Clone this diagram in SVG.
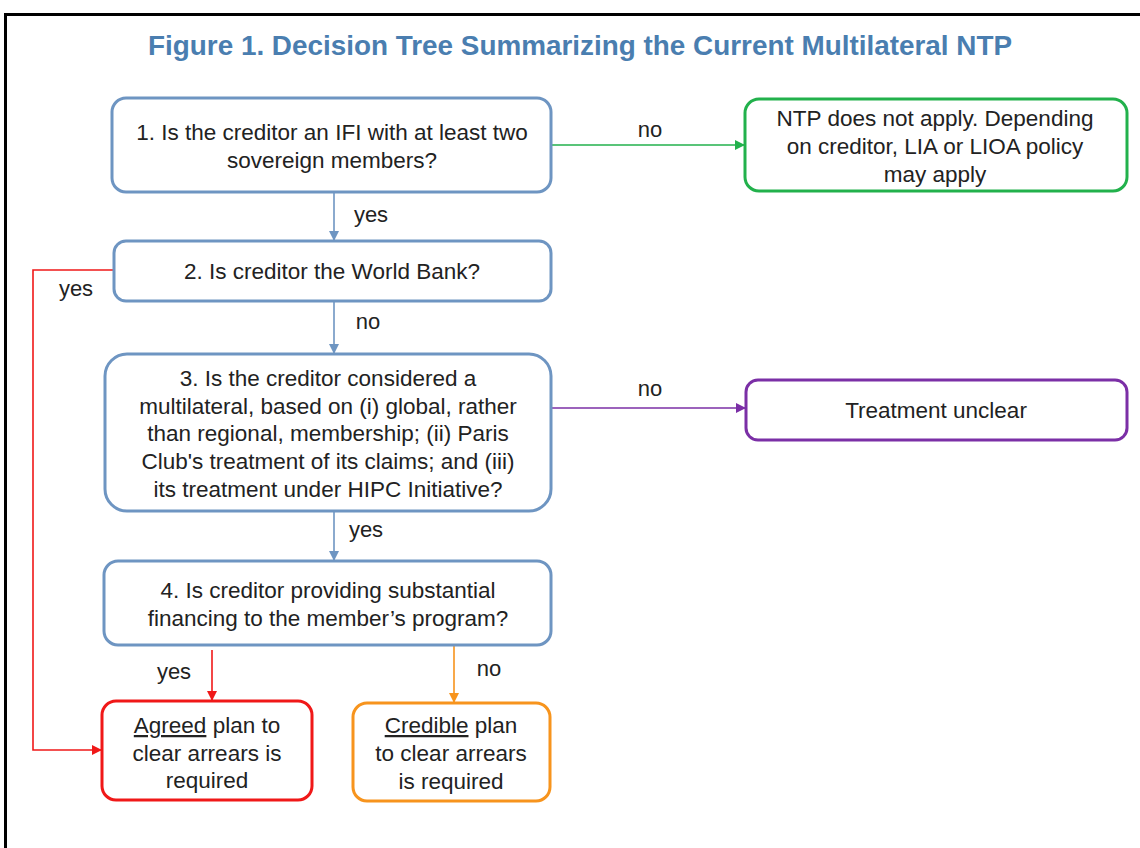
<svg xmlns="http://www.w3.org/2000/svg" width="1140" height="848" viewBox="0 0 1140 848">
<defs>
<style>
.t{font-family:"Liberation Sans",Arial,sans-serif;font-size:22.5px;fill:#222;text-anchor:middle}
.lb{font-family:"Liberation Sans",Arial,sans-serif;font-size:22px;fill:#222;text-anchor:middle}
.bx{fill:#fff;stroke-width:3}
.q{stroke:#6E95C2}
.c{fill:none;stroke-width:1.6}
</style>
<marker id="aB" markerWidth="10" markerHeight="10" refX="9" refY="5" orient="auto" markerUnits="userSpaceOnUse"><path d="M0,0 L10,5 L0,10 z" fill="#6E95C2"/></marker>
<marker id="aG" markerWidth="10" markerHeight="10" refX="9" refY="5" orient="auto" markerUnits="userSpaceOnUse"><path d="M0,0 L10,5 L0,10 z" fill="#22B14C"/></marker>
<marker id="aP" markerWidth="10" markerHeight="10" refX="9" refY="5" orient="auto" markerUnits="userSpaceOnUse"><path d="M0,0 L10,5 L0,10 z" fill="#7B2FA6"/></marker>
<marker id="aR" markerWidth="10" markerHeight="10" refX="9" refY="5" orient="auto" markerUnits="userSpaceOnUse"><path d="M0,0 L10,5 L0,10 z" fill="#F01818"/></marker>
<marker id="aO" markerWidth="10" markerHeight="10" refX="9" refY="5" orient="auto" markerUnits="userSpaceOnUse"><path d="M0,0 L10,5 L0,10 z" fill="#F7941D"/></marker>
</defs>
<rect x="0" y="0" width="1140" height="848" fill="#fff"/>
<rect x="5.5" y="14.5" width="1140" height="850" fill="none" stroke="#000" stroke-width="3"/>
<text x="580" y="55" font-family="'Liberation Sans',Arial,sans-serif" font-size="28" font-weight="bold" fill="#4A7EB0" text-anchor="middle" textLength="864" lengthAdjust="spacingAndGlyphs">Figure 1. Decision Tree Summarizing the Current Multilateral NTP</text>

<g id="connectors">
<line class="c" stroke="#6E95C2" x1="334" y1="193" x2="334" y2="240" marker-end="url(#aB)"/>
<line class="c" stroke="#6E95C2" x1="334" y1="302" x2="334" y2="353" marker-end="url(#aB)"/>
<line class="c" stroke="#6E95C2" x1="334" y1="512" x2="334" y2="560" marker-end="url(#aB)"/>
<line class="c" stroke="#22B14C" x1="552" y1="145" x2="744" y2="145" marker-end="url(#aG)"/>
<line class="c" stroke="#7B2FA6" x1="552" y1="408" x2="745" y2="408" marker-end="url(#aP)"/>
<polyline class="c" stroke="#F01818" points="113,270 33,270 33,750 101,750" marker-end="url(#aR)"/>
<line class="c" stroke="#F01818" x1="212" y1="650" x2="212" y2="700" marker-end="url(#aR)"/>
<line class="c" stroke="#F7941D" x1="454" y1="646" x2="454" y2="702" marker-end="url(#aO)"/>
<text class="lb" x="371" y="222">yes</text>
<text class="lb" x="368" y="329">no</text>
<text class="lb" x="366" y="537">yes</text>
<text class="lb" x="650" y="137">no</text>
<text class="lb" x="650" y="396">no</text>
<text class="lb" x="76" y="296">yes</text>
<text class="lb" x="174" y="679">yes</text>
<text class="lb" x="489" y="676">no</text>
</g>

<g id="q1">
<rect class="bx q" x="112" y="98" width="439" height="94" rx="14"/>
<text class="t" x="332" y="140">1. Is the creditor an IFI with at least two</text>
<text class="t" x="332" y="168">sovereign members?</text>
</g>
<g id="q2">
<rect class="bx q" x="114" y="241" width="437" height="60" rx="12"/>
<text class="t" x="332" y="279">2. Is creditor the World Bank?</text>
</g>
<g id="q3">
<rect class="bx q" x="105" y="354" width="446" height="157" rx="22"/>
<text class="t" x="328" y="386">3. Is the creditor considered a</text>
<text class="t" x="328" y="414">multilateral, based on (i) global, rather</text>
<text class="t" x="328" y="441">than regional, membership; (ii) Paris</text>
<text class="t" x="328" y="469">Club's treatment of its claims; and (iii)</text>
<text class="t" x="328" y="497">its treatment under HIPC Initiative?</text>
</g>
<g id="q4">
<rect class="bx q" x="104" y="561" width="447" height="84" rx="14"/>
<text class="t" x="328" y="598">4. Is creditor providing substantial</text>
<text class="t" x="328" y="626">financing to the member’s program?</text>
</g>
<g id="ntp">
<rect class="bx" stroke="#22B14C" x="745" y="99" width="382" height="92" rx="14"/>
<text class="t" x="935" y="126">NTP does not apply. Depending</text>
<text class="t" x="935" y="154">on creditor, LIA or LIOA policy</text>
<text class="t" x="935" y="182">may apply</text>
</g>
<g id="unclear">
<rect class="bx" stroke="#7B2FA6" x="746" y="380" width="381" height="60" rx="12"/>
<text class="t" x="936" y="418">Treatment unclear</text>
</g>
<g id="agreed">
<rect class="bx" stroke="#F01818" x="102" y="701" width="210" height="99" rx="14"/>
<text class="t" x="207" y="733"><tspan text-decoration="underline">Agreed</tspan> plan to</text>
<text class="t" x="207" y="761">clear arrears is</text>
<text class="t" x="207" y="788">required</text>
</g>
<g id="credible">
<rect class="bx" stroke="#F7941D" x="353" y="703" width="197" height="98" rx="14"/>
<text class="t" x="451" y="733"><tspan text-decoration="underline">Credible</tspan> plan</text>
<text class="t" x="451" y="761">to clear arrears</text>
<text class="t" x="451" y="789">is required</text>
</g>
</svg>
